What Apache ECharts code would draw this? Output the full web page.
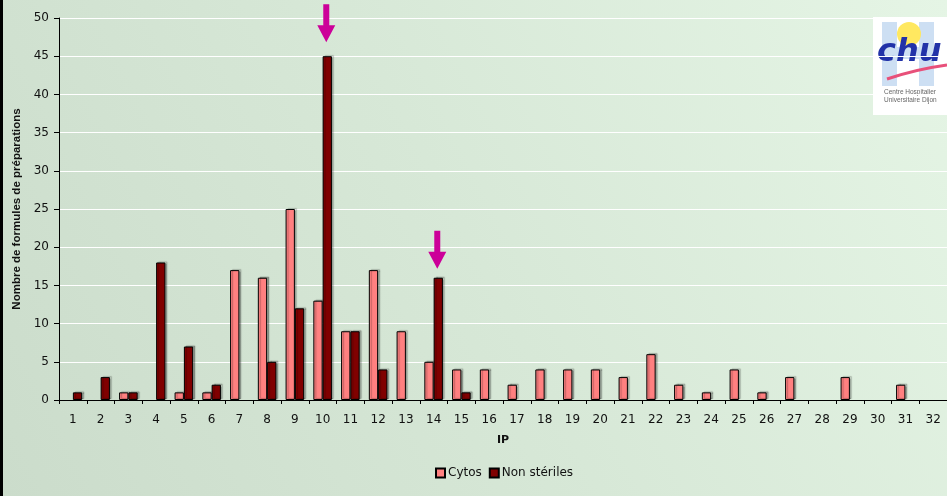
<!DOCTYPE html>
<html>
<head>
<meta charset="utf-8">
<script src="https://cdn.jsdelivr.net/npm/echarts@6/dist/echarts.min.js"></script>
<style>
  html, body { margin: 0; padding: 0; }
  #chart { width: 947px; height: 496px; }
</style>
</head>
<body>
<div id="chart"></div>
<script>
// IP categories 1..32
const categories = ['1','2','3','4','5','6','7','8','9','10','11','12','13','14','15','16',
                    '17','18','19','20','21','22','23','24','25','26','27','28','29','30','31','32'];
// Number of preparation formulas per IP
const cytos = [0,0,1,0,1,1,17,16,25,13,9,17,9,5,4,4,2,4,4,4,3,6,2,1,4,1,3,0,3,0,2,0];
const nonSteriles = [1,3,1,18,7,2,0,5,12,45,9,4,0,16,1,0,0,0,0,0,0,0,0,0,0,0,0,0,0,0,0,0];
const yTicks = { min: 0, max: 50, interval: 5 };
// Highlighted IPs (arrows above the non-sterile bars)
const highlighted = ['10', '14'];

const chart = echarts.init(document.getElementById('chart'));

const wideFont = 'DejaVu Sans, Verdana, sans-serif';

const barShadow = {
  borderColor: '#000',
  borderWidth: 1,
  shadowColor: 'rgba(0,0,0,0.25)',
  shadowBlur: 1,
  shadowOffsetX: 2,
  shadowOffsetY: -1
};

const arrowMarks = highlighted.map((c, i) => {
  const idx = categories.indexOf(c);
  return {
    coord: [c, nonSteriles[idx]],
    symbol: 'path://M6,0 L12,0 L12,21 L18,21 L9,38 L0,21 L6,21 Z',
    symbolSize: [18, 38],
    symbolOffset: [-1, i === 0 ? -33 : -28]
  };
});

chart.setOption({
  animation: false,
  backgroundColor: {
    type: 'linear', x: 0, y: 1, x2: 1, y2: 0,
    colorStops: [
      { offset: 0, color: '#cbdccb' },
      { offset: 0.5, color: '#d7e8d7' },
      { offset: 1, color: '#e5f5e5' }
    ]
  },
  textStyle: { fontFamily: wideFont },
  grid: { left: 59, right: 0, top: 18, bottom: 96 },
  legend: {
    left: 435,
    top: 467,
    padding: 0,
    itemWidth: 9,
    itemHeight: 9,
    itemGap: 7,
    icon: 'rect',
    textStyle: { fontFamily: wideFont, fontSize: 12, color: '#111', padding: [0, 0, 0, -2] },
    data: ['Cytos', 'Non stériles']
  },
  xAxis: {
    type: 'category',
    data: categories,
    name: 'IP',
    nameLocation: 'middle',
    nameGap: 35,
    nameTextStyle: { fontFamily: wideFont, fontWeight: 'bold', fontSize: 11, color: '#111' },
    axisLine: { lineStyle: { color: '#000', width: 1 } },
    axisTick: { show: true, length: 4, lineStyle: { color: '#000' } },
    axisLabel: { fontFamily: wideFont, fontSize: 12, color: '#111', margin: 14 }
  },
  yAxis: {
    type: 'value',
    min: yTicks.min,
    max: yTicks.max,
    interval: yTicks.interval,
    name: 'Nombre de formules de préparations',
    nameLocation: 'middle',
    nameGap: 36,
    nameTextStyle: { fontFamily: 'Liberation Sans, Arial, sans-serif', fontWeight: 'bold', fontSize: 11.5, color: '#111' },
    axisLine: { show: true, lineStyle: { color: '#000', width: 1 } },
    axisTick: { show: true, length: 5, lineStyle: { color: '#000' } },
    axisLabel: { fontFamily: wideFont, fontSize: 12, color: '#111', margin: 10 },
    splitLine: { lineStyle: { color: '#ffffff', width: 1.2 } }
  },
  series: [
    {
      name: 'Cytos',
      type: 'bar',
      data: cytos.map(v => (v === 0 ? null : v)),
      barGap: '0%',
      barCategoryGap: '33%',
      itemStyle: Object.assign({ color: '#ff8080' }, barShadow)
    },
    {
      name: 'Non stériles',
      type: 'bar',
      data: nonSteriles.map(v => (v === 0 ? null : v)),
      itemStyle: Object.assign({ color: '#800000' }, barShadow),
      markPoint: {
        silent: true,
        label: { show: false },
        itemStyle: { color: '#cc0099', borderWidth: 0, shadowBlur: 0, shadowOffsetX: 0, shadowOffsetY: 0 },
        data: arrowMarks
      }
    }
  ],
  graphic: [
    // dark left edge
    { type: 'rect', left: 0, top: 0, shape: { width: 3, height: 496 }, style: { fill: '#000' }, z: 100 },
    // hospital logo
    {
      type: 'group', left: 873, top: 17, z: 100,
      children: [
        { type: 'rect', shape: { x: 0, y: 0, width: 74, height: 98 }, style: { fill: '#ffffff' } },
        { type: 'rect', shape: { x: 9, y: 5, width: 15, height: 64 }, style: { fill: '#cddff3' } },
        { type: 'rect', shape: { x: 46, y: 5, width: 15, height: 64 }, style: { fill: '#cddff3' } },
        { type: 'rect', shape: { x: 9, y: 30, width: 52, height: 12 }, style: { fill: '#cddff3' } },
        { type: 'circle', shape: { cx: 36, cy: 17, r: 12 }, style: { fill: '#ffe860' } },
        { type: 'text', x: 4, y: 20, style: { text: 'chu', fontFamily: 'DejaVu Sans', fontStyle: 'italic', fontWeight: 'bold', fontSize: 32, fill: '#2232a8' } },
        { type: 'bezierCurve', shape: { x1: 14, y1: 62, cpx1: 32, cpy1: 56, cpx2: 52, cpy2: 51, x2: 74, y2: 48 }, style: { stroke: '#e8507a', lineWidth: 3, fill: null } },
        { type: 'text', x: 11, y: 72, style: { text: 'Centre Hospitalier', fontFamily: 'Liberation Sans', fontSize: 6.5, fill: '#666' } },
        { type: 'text', x: 11, y: 80, style: { text: 'Universitaire Dijon', fontFamily: 'Liberation Sans', fontSize: 6.5, fill: '#666' } }
      ]
    }
  ]
});
</script>
</body>
</html>
